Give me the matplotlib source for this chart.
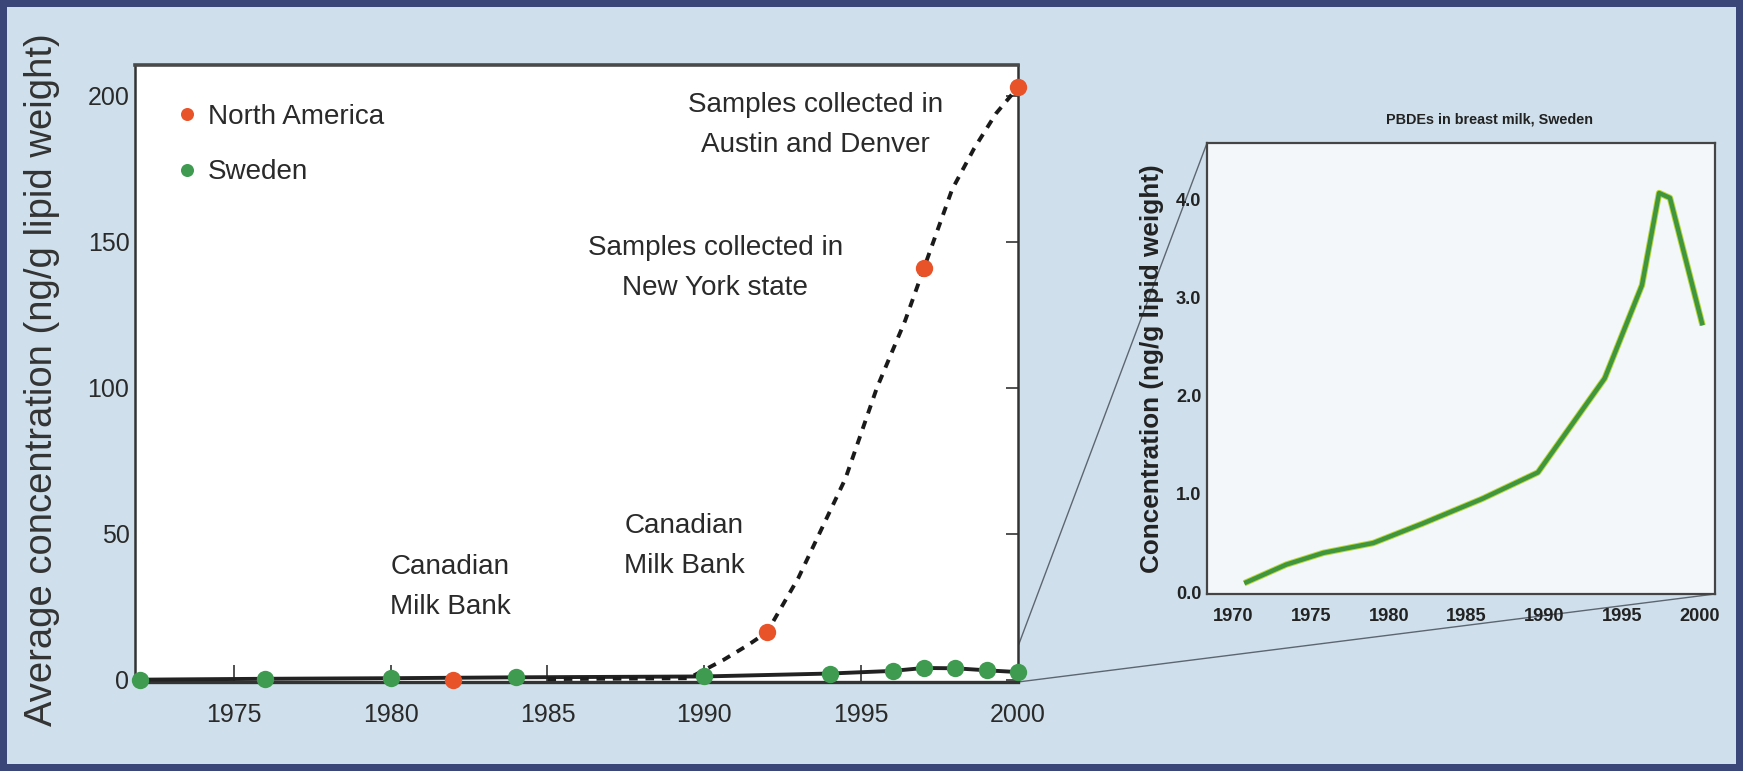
import matplotlib
matplotlib.use("Agg")
import matplotlib.pyplot as plt
from matplotlib import font_manager as fm
from matplotlib.patches import Rectangle, ConnectionPatch

# ----------------------------------------------------------------------
# DATA
# ----------------------------------------------------------------------
na_years = [1982, 1992, 1997, 2000]
na_vals = [0.0, 16.4, 141.0, 203.0]

# dashed trend drawn through the North America samples
trend_years = [1985, 1989.5, 1990.6, 1991.4, 1992, 1993, 1994.5, 1995.5,
               1996.4, 1997, 1997.9, 1998.6, 1999.3, 2000]
trend_vals = [0.3, 0.6, 6.8, 12.0, 16.4, 35.0, 69.0, 100.0,
              123.0, 141.0, 168.0, 182.0, 194.0, 203.0]

se_years = [1972, 1976, 1980, 1984, 1990, 1994, 1996, 1997, 1998, 1999, 2000]
se_vals = [0.1, 0.4, 0.6, 0.9, 1.2, 2.2, 3.1, 4.1, 4.0, 3.3, 2.7]

# inset: PBDEs in breast milk, Sweden
inset_years = [1970.7, 1973.4, 1975.8, 1979.0, 1982.2, 1986.0, 1989.6,
               1993.9, 1996.3, 1997.4, 1998.1, 2000.2]
inset_vals = [0.09, 0.28, 0.40, 0.50, 0.70, 0.95, 1.22,
              2.18, 3.13, 4.07, 4.02, 2.72]

main_xticks = [1975, 1980, 1985, 1990, 1995, 2000]
main_yticks = [0, 50, 100, 150, 200]
inset_xticks = [1970, 1975, 1980, 1985, 1990, 1995, 2000]
inset_yticks = [0.0, 1.0, 2.0, 3.0, 4.0]

notes = [
    ("Samples collected in\nAustin and Denver", 1993.55, 190.0),
    ("Samples collected in\nNew York state", 1990.35, 141.0),
    ("Canadian\nMilk Bank", 1981.9, 32.0),
    ("Canadian\nMilk Bank", 1989.35, 46.0),
]

# ----------------------------------------------------------------------
# FONTS
# ----------------------------------------------------------------------
def have(name):
    try:
        fm.findfont(name, fallback_to_default=False)
        return True
    except ValueError:
        return False

if have("Liberation Sans Narrow"):
    COND, k = "Liberation Sans Narrow", 1.0
else:
    COND, k = "Liberation Sans", 0.82
REG = "Liberation Sans"

ORANGE = "#e8532a"
GREEN = "#3f9b50"
NAVY = "#3a4677"
PAPER = "#cfe0ec"
INK = "#2a2a2a"

W, H = 1743, 771
fig = plt.figure(figsize=(W / 100, H / 100), dpi=100)
fig.patch.set_facecolor(NAVY)
fig.patches.append(Rectangle((7 / W, 7 / H), (W - 14) / W, (H - 14) / H,
                             transform=fig.transFigure, facecolor=PAPER,
                             edgecolor="none", zorder=-10))

# ----------------------------------------------------------------------
# MAIN PANEL
# ----------------------------------------------------------------------
ax = fig.add_axes([135 / W, (H - 682) / H, 883 / W, 617 / H])
ax.set_facecolor("#ffffff")

ax.plot(se_years, se_vals, color="#222222", lw=2.8, zorder=3, clip_on=False)
ax.plot(trend_years, trend_vals, color="#1a1a1a", lw=2.8, ls=(0, (2.2, 2.0)),
        zorder=3, clip_on=False)
ax.plot(na_years, na_vals, ls="none", marker="o", ms=12.5, mfc=ORANGE,
        mec="none", zorder=5, clip_on=False, label="North America")
ax.plot(se_years, se_vals, ls="none", marker="o", ms=12.5, mfc=GREEN,
        mec="none", zorder=5, clip_on=False, label="Sweden")

ax.set_xlim(1971.85, 2000.0)
ax.set_ylim(-0.7, 210.6)
ax.set_xticks(main_xticks)
ax.set_yticks(main_yticks)
ax.set_xticklabels([str(v) for v in main_xticks], family=COND,
                   fontsize=22 * k, color=INK)
ax.set_yticklabels([str(v) for v in main_yticks], family=COND,
                   fontsize=22 * k, color=INK)
ax.tick_params(axis="x", direction="in", length=12, width=1.2, pad=15,
               color="#333333")
ax.tick_params(axis="y", left=False, right=True, direction="in", length=9,
               width=1.2, pad=4, color="#333333")
for s in ax.spines.values():
    s.set_linewidth(1.8)
    s.set_color("#333333")
ax.spines["top"].set_linewidth(2.6)
ax.spines["top"].set_color("#4a4a4a")
ax.spines["bottom"].set_linewidth(2.4)

for txt, x, y in notes:
    ax.text(x, y, txt, ha="center", va="center", family=COND,
            fontsize=24.5 * k, color=INK, linespacing=1.7)

leg = ax.legend(loc="upper left", bbox_to_anchor=(0.046, 0.937),
                frameon=False, handlelength=0.8, handletextpad=0.35,
                labelspacing=1.06, borderaxespad=0, borderpad=0,
                prop={"family": COND, "size": 24.5 * k}, markerscale=0.75)
for t in leg.get_texts():
    t.set_color(INK)

fig.text(42 / W, 1 - 380 / H, "Average concentration (ng/g lipid weight)",
         rotation=90, ha="center", va="center", family=REG, fontsize=27.5,
         color="#333333")

# ----------------------------------------------------------------------
# INSET
# ----------------------------------------------------------------------
ins = fig.add_axes([1207 / W, (H - 594) / H, 508 / W, 451 / H])
ins.set_facecolor("#f3f7f9")
ins.plot(inset_years, inset_vals, color="#b9d63a", lw=4.6,
         solid_capstyle="butt", zorder=3)
ins.plot(inset_years, inset_vals, color="#3f963f", lw=3.2,
         solid_capstyle="butt", zorder=4)
ins.set_xlim(1968.3, 2001.0)
ins.set_ylim(-0.02, 4.58)
ins.set_xticks(inset_xticks)
ins.set_yticks(inset_yticks)
ins.set_xticklabels([str(v) for v in inset_xticks], family=COND,
                    weight="bold", fontsize=16 * k, color="#222222")
ins.set_yticklabels([f"{v:.1f}" for v in inset_yticks], family=COND,
                    weight="bold", fontsize=16 * k, color="#222222")
ins.tick_params(axis="x", length=0, pad=10)
ins.tick_params(axis="y", length=0, pad=4)
for s in ins.spines.values():
    s.set_linewidth(1.6)
    s.set_color("#444444")
fig.text(1490 / W, 1 - 119 / H, "PBDEs in breast milk, Sweden",
         ha="center", va="center", family=COND, weight="bold",
         fontsize=12.6 * k, color="#222222")
ins.set_ylabel("Concentration (ng/g lipid weight)", family=REG,
               weight="bold", fontsize=18.8, color="#222222", labelpad=9)

# zoom connector lines
for xa, ya, xb, yb in [(2000, 11.5, 0, 1), (2000, -0.7, 1, 0)]:
    con = ConnectionPatch(xyA=(xa, ya), coordsA=ax.transData,
                          xyB=(xb, yb), coordsB=ins.transAxes,
                          color="#5d6670", lw=1.0, zorder=-5)
    fig.add_artist(con)

fig.savefig("out.png", dpi=100, facecolor=fig.get_facecolor())
